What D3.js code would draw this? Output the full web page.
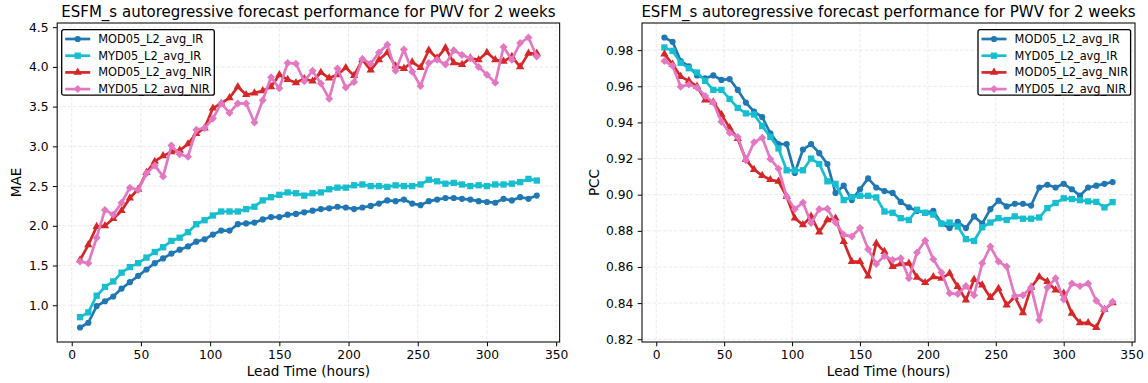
<!DOCTYPE html>
<html>
<head>
<meta charset="utf-8">
<script src="https://cdn.jsdelivr.net/npm/d3@7"></script>
<style>
  body { margin: 0; background: #fff; }
  text { font-family: "DejaVu Sans", sans-serif; fill: #000; }
</style>
</head>
<body>
<svg id="chart" width="1148" height="383"></svg>
<script>
// lead times (hours)
const leadTimes = [6,12,18,24,30,36,42,48,54,60,66,72,78,84,90,96,102,108,114,120,126,132,138,144,150,156,162,168,174,180,186,192,198,204,210,216,222,228,234,240,246,252,258,264,270,276,282,288,294,300,306,312,318,324,330,336];

const seriesNames = ['MOD05_L2_avg_IR', 'MYD05_L2_avg_IR', 'MOD05_L2_avg_NIR', 'MYD05_L2_avg_NIR'];

// MAE panel
const maeModIR = [0.72,0.78,0.99,1.05,1.11,1.21,1.29,1.37,1.45,1.53,1.59,1.65,1.70,1.74,1.80,1.83,1.89,1.94,1.94,2.02,2.03,2.04,2.08,2.11,2.11,2.14,2.15,2.17,2.19,2.21,2.22,2.24,2.23,2.21,2.23,2.25,2.28,2.32,2.31,2.33,2.28,2.26,2.31,2.33,2.35,2.35,2.34,2.33,2.31,2.30,2.29,2.34,2.32,2.36,2.34,2.38];
const maeMydIR = [0.85,0.91,1.12,1.23,1.30,1.41,1.48,1.53,1.60,1.67,1.73,1.81,1.85,1.92,2.02,2.07,2.13,2.18,2.18,2.18,2.21,2.24,2.32,2.36,2.39,2.42,2.41,2.38,2.41,2.42,2.46,2.48,2.48,2.51,2.52,2.50,2.50,2.49,2.51,2.50,2.50,2.52,2.58,2.56,2.53,2.54,2.52,2.50,2.51,2.50,2.52,2.52,2.53,2.55,2.59,2.57];
const maeModNIR = [1.57,1.76,1.99,2.00,2.09,2.19,2.35,2.46,2.67,2.81,2.88,2.93,2.95,3.03,3.16,3.23,3.48,3.54,3.61,3.75,3.65,3.67,3.70,3.75,3.90,3.84,3.80,3.85,3.82,3.93,3.86,3.90,3.99,3.89,4.09,3.96,4.09,4.18,4.01,3.98,4.06,3.99,4.21,4.11,4.24,4.05,4.03,4.11,4.09,4.18,4.09,4.07,4.13,4.00,4.17,4.17];
const maeMydNIR = [1.55,1.53,1.85,2.20,2.14,2.29,2.48,2.45,2.66,2.76,2.62,3.01,2.90,2.87,3.21,3.23,3.35,3.54,3.42,3.54,3.54,3.30,3.58,3.87,3.73,4.05,4.04,3.82,3.95,3.79,3.60,3.98,3.74,3.81,4.10,4.04,4.18,4.28,3.95,4.22,3.94,3.76,4.05,4.09,4.03,4.21,4.15,4.11,4.00,3.90,3.80,4.25,4.09,4.30,4.37,4.13];

// PCC panel
const pccModIR = [0.987,0.9846,0.974,0.971,0.966,0.9644,0.966,0.9635,0.964,0.958,0.951,0.946,0.943,0.934,0.928,0.928,0.912,0.925,0.928,0.923,0.917,0.901,0.905,0.897,0.903,0.909,0.904,0.902,0.901,0.896,0.893,0.891,0.890,0.891,0.884,0.8815,0.885,0.8815,0.888,0.884,0.892,0.8967,0.8935,0.895,0.895,0.894,0.904,0.9055,0.904,0.906,0.903,0.8995,0.904,0.905,0.906,0.907];
const pccMydIR = [0.9815,0.9796,0.973,0.970,0.9676,0.963,0.958,0.958,0.953,0.948,0.945,0.9444,0.938,0.932,0.9256,0.9135,0.9135,0.9135,0.920,0.917,0.9074,0.906,0.897,0.8987,0.8994,0.8994,0.8985,0.8907,0.890,0.887,0.886,0.8917,0.890,0.889,0.884,0.8846,0.8824,0.8754,0.8744,0.882,0.8846,0.887,0.886,0.888,0.8867,0.8867,0.8874,0.8926,0.8954,0.898,0.8976,0.897,0.8963,0.896,0.893,0.8959];
const pccModNIR = [0.9778,0.9722,0.9654,0.963,0.960,0.9524,0.9513,0.9444,0.937,0.931,0.9194,0.9139,0.9106,0.9083,0.9074,0.899,0.887,0.8833,0.888,0.8793,0.8861,0.887,0.874,0.863,0.863,0.855,0.8731,0.8685,0.8602,0.8617,0.862,0.8543,0.8513,0.8546,0.8537,0.8565,0.8491,0.8417,0.8531,0.850,0.8431,0.8481,0.8389,0.8435,0.8346,0.8487,0.8546,0.8519,0.8472,0.8454,0.8343,0.8291,0.8291,0.8265,0.8365,0.8402];
const pccMydNIR = [0.974,0.9713,0.9598,0.961,0.9593,0.9546,0.951,0.9404,0.9343,0.932,0.919,0.929,0.9315,0.9198,0.9143,0.899,0.892,0.8957,0.8843,0.892,0.8922,0.8846,0.8778,0.8769,0.8815,0.8698,0.8617,0.8661,0.8639,0.8648,0.8537,0.868,0.8746,0.8643,0.8569,0.8454,0.845,0.8494,0.8444,0.862,0.8713,0.863,0.8602,0.8439,0.8444,0.8487,0.8306,0.8487,0.8537,0.842,0.8509,0.8494,0.8509,0.8413,0.8365,0.8407];

// tick labels
const xTicks = [0, 50, 100, 150, 200, 250, 300, 350];
const maeTicks = [1.0, 1.5, 2.0, 2.5, 3.0, 3.5, 4.0, 4.5];
const pccTicks = [0.82, 0.84, 0.86, 0.88, 0.90, 0.92, 0.94, 0.96, 0.98];

const colors = ['#1f77b4', '#17becf', '#d62728', '#e377c2'];
const markers = ['circle', 'square', 'triangle', 'diamond'];
const titleText = 'ESFM_s autoregressive forecast performance for PWV for 2 weeks';

const svg = d3.select('#chart');

function markerPath(kind) {
  if (kind === 'circle') return d3.symbol(d3.symbolCircle, 30)();
  if (kind === 'square') return d3.symbol(d3.symbolSquare, 40)();
  if (kind === 'triangle') return d3.symbol(d3.symbolTriangle, 30)();
  // matplotlib 'D' : square turned 45deg
  const r = 4;
  return `M0,${-r}L${r},0L0,${r}L${-r},0Z`;
}

function drawPanel(cfg) {
  const { left, right, top, bottom } = cfg;
  const g = svg.append('g');

  const all = cfg.series.flat();
  const [lo, hi] = d3.extent(all);
  const pad = (hi - lo) * 0.05;
  const [xlo, xhi] = d3.extent(leadTimes);
  const xpad = (xhi - xlo) * 0.05;

  const x = d3.scaleLinear().domain([xlo - xpad, xhi + xpad]).range([left, right]);
  const y = d3.scaleLinear().domain([lo - pad, hi + pad]).range([bottom, top]);

  // grid
  const grid = g.append('g').attr('stroke', '#b0b0b0').attr('stroke-opacity', 0.3)
    .attr('stroke-width', 0.9).attr('stroke-dasharray', '3.5,1.8');
  grid.selectAll('.gx').data(xTicks).join('line')
    .attr('x1', d => x(d)).attr('x2', d => x(d)).attr('y1', top).attr('y2', bottom);
  grid.selectAll('.gy').data(cfg.yTicks).join('line')
    .attr('y1', d => y(d)).attr('y2', d => y(d)).attr('x1', left).attr('x2', right);

  // series
  cfg.series.forEach((vals, i) => {
    const pts = leadTimes.map((t, j) => [t, vals[j]]);
    const line = d3.line().x(d => x(d[0])).y(d => y(d[1]));
    g.append('path').datum(pts)
      .attr('fill', 'none').attr('stroke', colors[i]).attr('stroke-width', 2.7)
      .attr('stroke-linejoin', 'round').attr('stroke-linecap', 'round')
      .attr('d', line);
    g.append('g').selectAll('path').data(pts).join('path')
      .attr('d', markerPath(markers[i]))
      .attr('transform', d => `translate(${x(d[0])},${y(d[1])})`)
      .attr('fill', colors[i]);
  });

  // axes
  const xAxis = d3.axisBottom(x).tickValues(xTicks).tickSize(4.3).tickPadding(4.3).tickFormat(d3.format('d'));
  const yAxis = d3.axisLeft(y).tickValues(cfg.yTicks).tickSize(4.3).tickPadding(4.3).tickFormat(cfg.fmt);
  const ax = g.append('g').attr('transform', `translate(0,${bottom})`).call(xAxis);
  const ay = g.append('g').attr('transform', `translate(${left},0)`).call(yAxis);
  [ax, ay].forEach(a => {
    a.select('.domain').remove();
    a.selectAll('line').attr('stroke', '#000').attr('stroke-width', 1);
    a.selectAll('text').attr('font-size', 12.3).attr('font-family', 'DejaVu Sans').attr('fill', '#000');
  });

  g.append('rect').attr('x', left).attr('y', top).attr('width', right - left).attr('height', bottom - top)
    .attr('fill', 'none').attr('stroke', '#222').attr('stroke-width', 1.2);

  // labels
  g.append('text').attr('x', (left + right) / 2).attr('y', top - 6.3)
    .attr('text-anchor', 'middle').attr('font-size', 15).text(titleText);
  g.append('text').attr('x', (left + right) / 2).attr('y', 375.5)
    .attr('text-anchor', 'middle').attr('font-size', 13.6).text('Lead Time (hours)');
  g.append('text').attr('transform', `translate(${cfg.ylabelX},${(top + bottom) / 2}) rotate(-90)`)
    .attr('text-anchor', 'middle').attr('font-size', 13.6).text(cfg.ylabel);

  // legend
  const lw = 152.6, lh = 65.5;
  const lg = g.append('g').attr('transform', `translate(${cfg.legendX},${top + 6.7})`);
  lg.append('rect').attr('width', lw).attr('height', lh).attr('rx', 2)
    .attr('fill', '#fff').attr('fill-opacity', 0.85).attr('stroke', '#000').attr('stroke-width', 1.3);
  seriesNames.forEach((name, i) => {
    const yy = 9.3 + i * 16.7;
    lg.append('line').attr('x1', 3.5).attr('x2', 28.5).attr('y1', yy).attr('y2', yy)
      .attr('stroke', colors[i]).attr('stroke-width', 2.7);
    lg.append('path').attr('d', markerPath(markers[i]))
      .attr('transform', `translate(16,${yy})`).attr('fill', colors[i]);
    lg.append('text').attr('x', 36.6).attr('y', yy + 4.1).attr('font-size', 11.4).text(name);
  });
}

drawPanel({
  left: 57.2, right: 559.6, top: 23, bottom: 342,
  series: [maeModIR, maeMydIR, maeModNIR, maeMydNIR],
  yTicks: maeTicks, fmt: d3.format('.1f'),
  ylabel: 'MAE', ylabelX: 20.5, legendX: 61.7
});

drawPanel({
  left: 642, right: 1135, top: 23, bottom: 342,
  series: [pccModIR, pccMydIR, pccModNIR, pccMydNIR],
  yTicks: pccTicks, fmt: d3.format('.2f'),
  ylabel: 'PCC', ylabelX: 598.5, legendX: 978
});
</script>
</body>
</html>
